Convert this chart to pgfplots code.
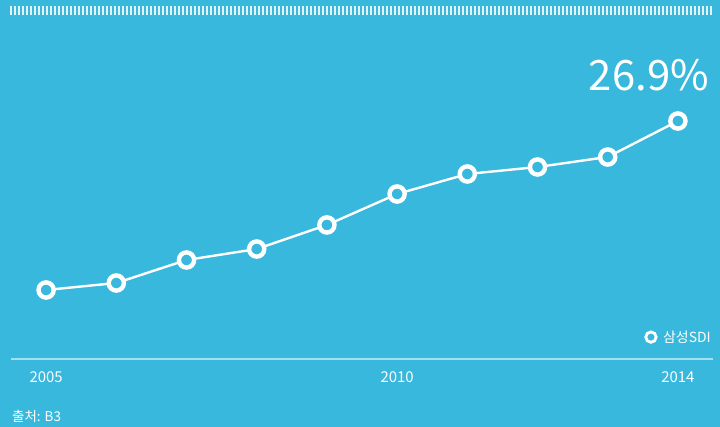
\documentclass[border=0pt]{standalone}
\usepackage{pgfplots}
\pgfplotsset{compat=1.18}
\usepackage{fontspec}
\setmainfont{Noto Sans CJK KR}
\definecolor{bg}{HTML}{38B8DC}
\definecolor{axisln}{HTML}{A6E0F0}
\begin{document}
\begin{tikzpicture}
\useasboundingbox (0,0) rectangle (720bp,427bp);
\fill[bg] (0,0) rectangle (720bp,427bp);
\foreach \i in {0,...,175}{
  \draw[white, opacity=0.85, line width=1.2bp] ({11bp+4bp*\i},412bp) -- ({11bp+4bp*\i},421bp);
}
\begin{axis}[
  scale only axis,
  at={(11bp,68bp)}, anchor=south west,
  width=702bp, height=238bp,
  xmin=2004.5, xmax=2014.5,
  ymin=0, ymax=26.9,
  clip=false,
  axis x line*=bottom,
  axis y line=none,
  x axis line style={draw=axisln, line width=1.3bp, -},
  xtick={2005,2010,2014},
  major tick length=0pt,
  /pgf/number format/1000 sep={},
  /pgf/number format/assume math mode=true,
  xticklabel style={text=white, font=\fontsize{15}{15}\selectfont, anchor=base, yshift=-24bp},
  legend style={draw=none, fill=none, text=white, font=\fontsize{14}{14}\selectfont,
    at={(1,0.092)}, anchor=east, inner sep=0pt, legend cell align=left,
    /tikz/every odd column/.append style={column sep=5bp}},
  legend image code/.code={\draw[#1, only marks, mark size=5.2bp, mark options={fill=bg, draw=white, line width=2.8bp}] plot coordinates {(0.1cm,0cm)};},
]
\addplot[white, line width=2.4bp, mark=*, mark size=7.6bp,
  mark options={fill=bg, draw=white, line width=4.4bp}]
  coordinates {
  (2005,7.80) (2006,8.59) (2007,11.19) (2008,12.43) (2009,15.15)
  (2010,18.65) (2011,20.91) (2012,21.70) (2013,22.83) (2014,26.9)
};
\addlegendentry{삼성SDI}
\end{axis}
\node[anchor=base east, text=white, inner sep=0pt] at (709bp,336bp) {\fontsize{42}{42}\selectfont 26.9\%};
\node[anchor=base west, text=white, inner sep=0pt] at (12bp,6bp) {\fontsize{13.5}{13.5}\selectfont 출처: B3};
\end{tikzpicture}
\end{document}
